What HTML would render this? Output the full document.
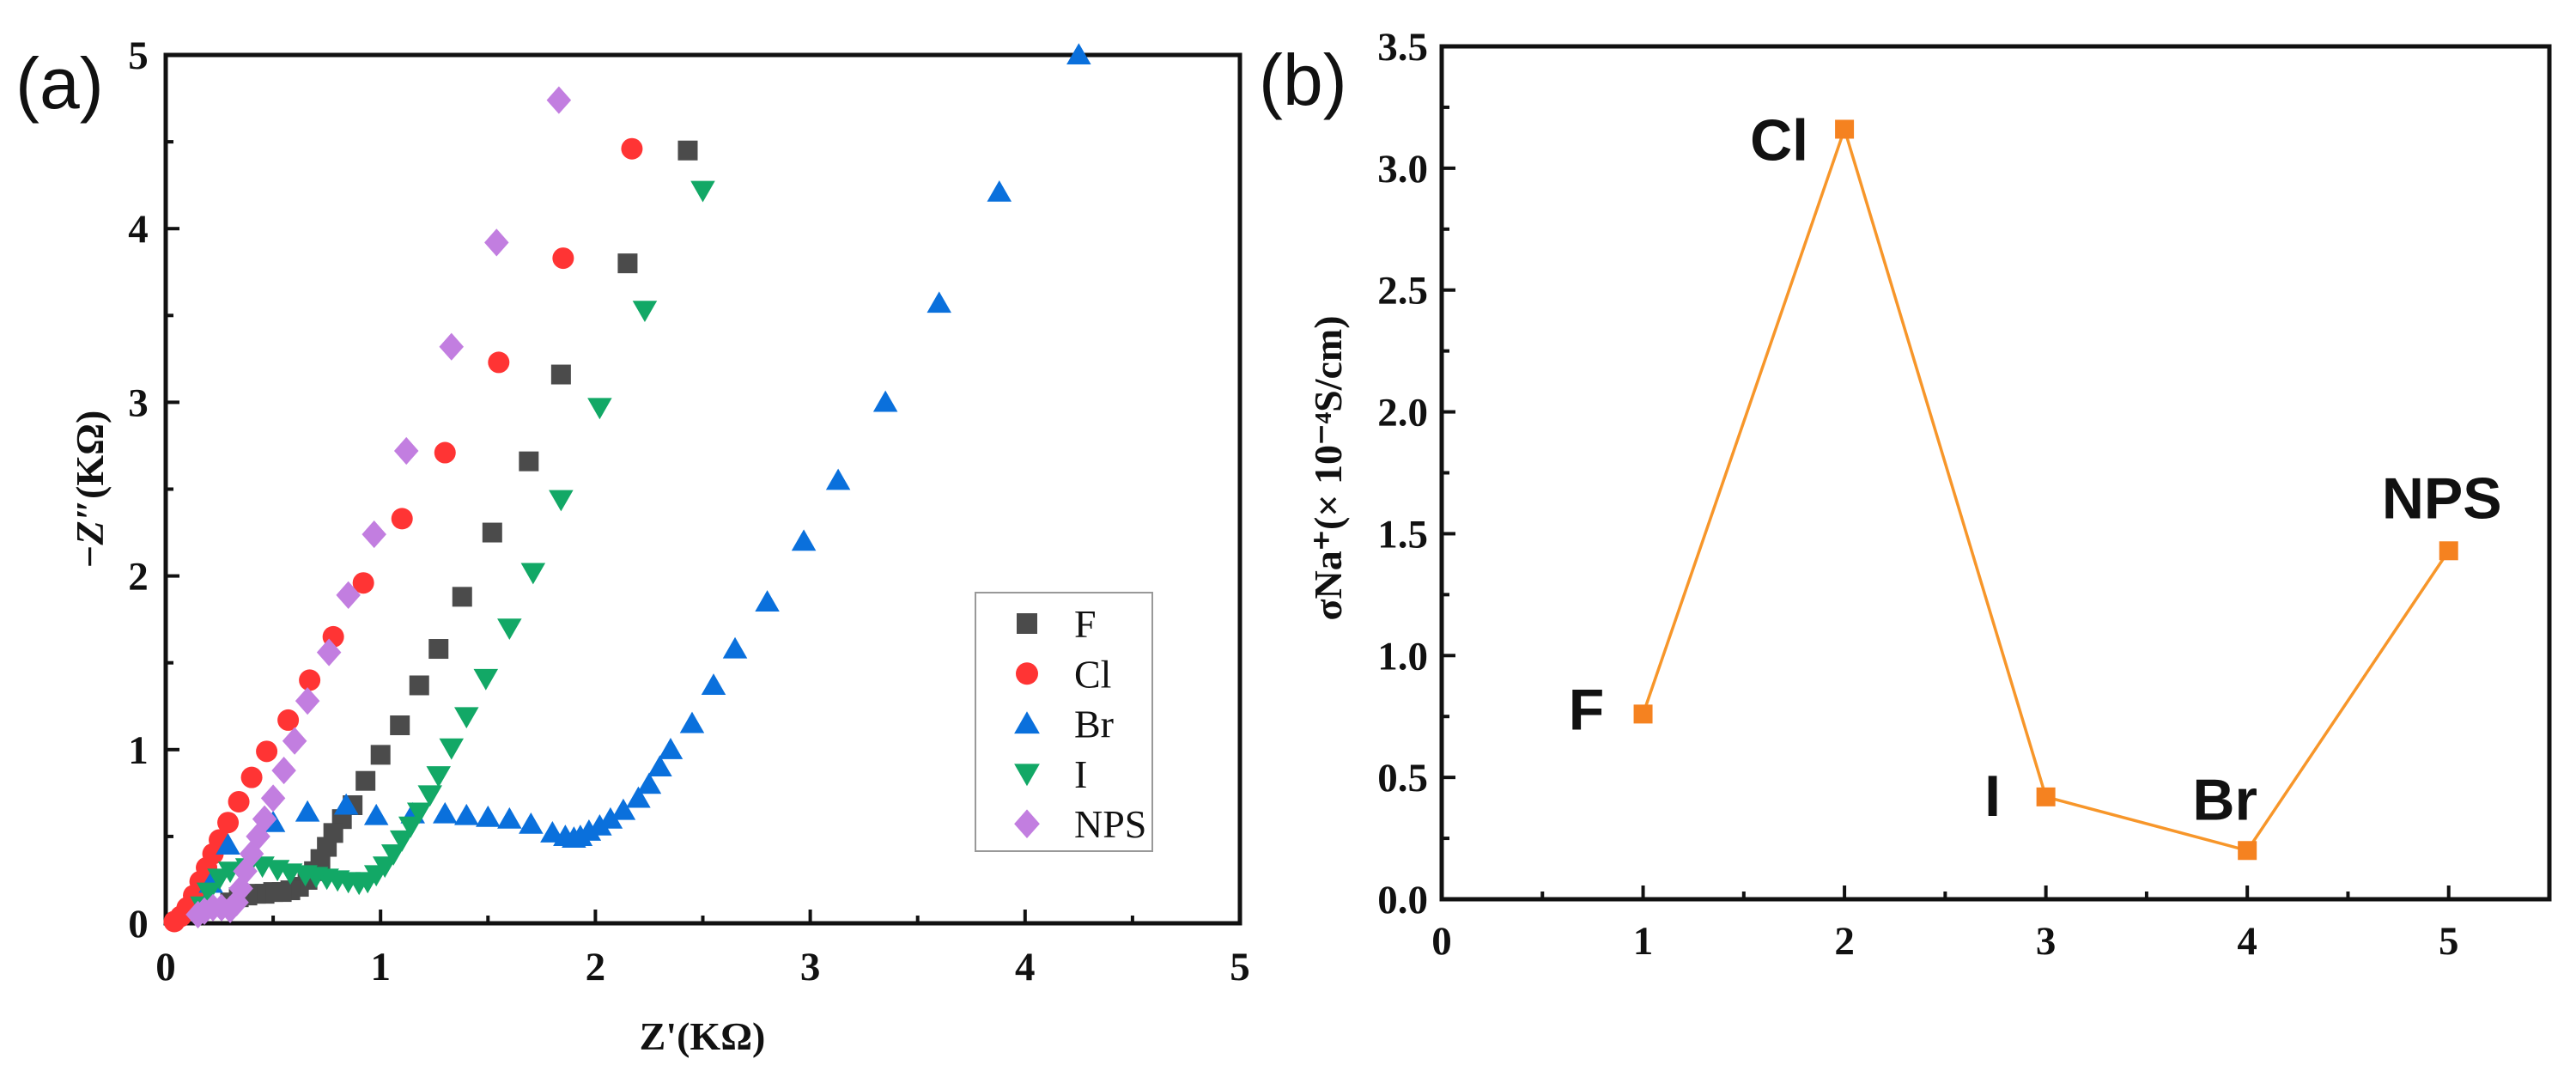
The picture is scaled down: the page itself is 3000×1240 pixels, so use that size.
<!DOCTYPE html>
<html><head><meta charset="utf-8">
<style>
html,body{margin:0;padding:0;background:#fff;}
svg{display:block;}
.tick{font-family:"Liberation Serif",serif;font-weight:bold;font-size:47px;fill:#111;}
.ttl{font-family:"Liberation Serif",serif;font-weight:bold;font-size:46px;fill:#111;}
.plab{font-family:"Liberation Sans",sans-serif;font-size:84px;fill:#111;}
.blab{font-family:"Liberation Sans",sans-serif;font-weight:bold;font-size:68px;fill:#111;}
.leg{font-family:"Liberation Serif",serif;font-size:46px;fill:#111;}
</style></head>
<body>
<svg id="fig" width="3000" height="1240" viewBox="0 0 3000 1240" xmlns="http://www.w3.org/2000/svg">
<text class="plab" x="18" y="126">(a)</text>
<text class="plab" x="1466" y="122">(b)</text>
<g id="pa"></g>
<g id="pb"></g>
</svg>
<script>
// ---------- Panel (a) data: Nyquist ----------
const seriesNames = ["F","Cl","Br","I","NPS"];
const F_x=[2.43,2.15,1.84,1.69,1.52,1.38,1.27,1.18,1.09,1.00,0.93,0.87,0.82,0.78,0.75,0.72,0.69,0.66,0.62,0.58,0.54,0.50,0.46,0.42,0.38,0.34,0.30];
const F_y=[4.45,3.80,3.16,2.66,2.25,1.88,1.58,1.37,1.14,0.97,0.82,0.68,0.60,0.52,0.44,0.37,0.30,0.25,0.21,0.19,0.18,0.18,0.17,0.17,0.16,0.15,0.12];
const Cl_x=[2.17,1.85,1.55,1.30,1.10,0.92,0.78,0.67,0.57,0.47,0.40,0.34,0.29,0.25,0.22,0.19,0.16,0.13,0.10,0.07,0.04];
const Cl_y=[4.46,3.83,3.23,2.71,2.33,1.96,1.65,1.40,1.17,0.99,0.84,0.70,0.58,0.48,0.40,0.32,0.24,0.16,0.09,0.04,0.01];
const Br_x=[4.25,3.88,3.60,3.35,3.13,2.97,2.80,2.65,2.55,2.45,2.35,2.30,2.25,2.20,2.13,2.07,2.02,1.97,1.93,1.90,1.86,1.80,1.70,1.60,1.50,1.40,1.30,1.15,0.98,0.84,0.66,0.50,0.29,0.21,0.18];
const Br_y=[5.00,4.21,3.57,3.00,2.55,2.20,1.85,1.58,1.37,1.15,1.00,0.90,0.80,0.72,0.65,0.60,0.56,0.53,0.50,0.49,0.50,0.52,0.57,0.60,0.61,0.62,0.63,0.63,0.62,0.68,0.64,0.58,0.45,0.23,0.10];
const I_x=[2.50,2.23,2.02,1.84,1.71,1.60,1.49,1.40,1.33,1.27,1.23,1.18,1.14,1.10,1.06,1.02,0.98,0.94,0.90,0.85,0.80,0.75,0.70,0.65,0.58,0.52,0.45,0.38,0.30,0.25,0.20,0.17];
const I_y=[4.22,3.53,2.97,2.44,2.02,1.70,1.41,1.19,1.01,0.85,0.74,0.64,0.56,0.48,0.40,0.33,0.28,0.24,0.23,0.24,0.25,0.26,0.27,0.28,0.29,0.31,0.33,0.32,0.30,0.26,0.18,0.10];
const N_x=[1.83,1.54,1.33,1.12,0.97,0.85,0.76,0.66,0.60,0.55,0.50,0.46,0.43,0.40,0.37,0.35,0.33,0.30,0.26,0.22,0.18,0.15];
const N_y=[4.74,3.92,3.32,2.72,2.24,1.89,1.56,1.28,1.05,0.88,0.72,0.60,0.50,0.40,0.30,0.20,0.12,0.08,0.09,0.09,0.07,0.05];
const aTicks=[0,1,2,3,4,5];
// ---------- Panel (b) data ----------
const bCats=["F","Cl","I","Br","NPS"];
const bX=[1,2,3,4,5];
const bY=[0.76,3.16,0.42,0.20,1.43];
const bYTicks=["0.0","0.5","1.0","1.5","2.0","2.5","3.0","3.5"];
const bXTicks=["0","1","2","3","4","5"];

const NS="http://www.w3.org/2000/svg";
function mk(tag,attrs,parent){const e=document.createElementNS(NS,tag);for(const k in attrs)e.setAttribute(k,attrs[k]);parent.appendChild(e);return e;}

// ---- Panel a ----
const pa=document.getElementById('pa');
const aL=193,aR=1444,aT=64,aB=1075;
const ax=v=>aL+(aR-aL)*v/5, ay=v=>aB-(aB-aT)*v/5;
const frameA=mk('rect',{x:aL,y:aT,width:aR-aL,height:aB-aT,fill:'none',stroke:'#111','stroke-width':5},pa);


for(let i=0;i<=10;i++){
  const v=i/2, major=i%2===0, len=major?16:9;
  const t1=mk('line',{x1:ax(v),x2:ax(v),y1:aB,y2:aB-len,stroke:'#111','stroke-width':4},pa);
  
  
  const t2=mk('line',{x1:aL,x2:aL+len,y1:ay(v),y2:ay(v),stroke:'#111','stroke-width':4},pa);
  
  
}
aTicks.forEach(v=>{
  const tx=mk('text',{x:ax(v),y:aB+66,'text-anchor':'middle',class:'tick'},pa);tx.textContent=v;
  
  
  const ty=mk('text',{x:aL-32,y:ay(v)+16,'text-anchor':'middle',class:'tick'},pa);ty.textContent=v;
  
  
});
const xtA=mk('text',{x:818,y:1222,'text-anchor':'middle',class:'ttl'},pa);xtA.textContent="Z'(KΩ)";


const ytA=mk('text',{x:0,y:0,'text-anchor':'middle',class:'ttl',transform:'translate(120,570) rotate(-90)'},pa);
ytA.innerHTML='<tspan font-style="italic">−Z″</tspan>(KΩ)';



const colors={F:'#4b4b4b',Cl:'#ff3434',Br:'#0a70dc',I:'#12a866',NPS:'#c27ee0'};
function marker(type,cx,cy,s,color,parent){
  let e;
  if(type==='F') e=mk('rect',{x:cx-s/2,y:cy-s/2,width:s,height:s,fill:color},parent);
  else if(type==='Cl') e=mk('circle',{cx:cx,cy:cy,r:s/2+1,fill:color},parent);
  else if(type==='Br') e=mk('polygon',{points:`${cx},${cy-s*0.6} ${cx+s*0.62},${cy+s*0.48} ${cx-s*0.62},${cy+s*0.48}`,fill:color},parent);
  else if(type==='I') e=mk('polygon',{points:`${cx},${cy+s*0.6} ${cx+s*0.62},${cy-s*0.48} ${cx-s*0.62},${cy-s*0.48}`,fill:color},parent);
  else e=mk('polygon',{points:`${cx},${cy-s*0.7} ${cx+s*0.62},${cy} ${cx},${cy+s*0.7} ${cx-s*0.62},${cy}`,fill:color},parent);
  return e;
}
const dataA={F:[F_x,F_y],Cl:[Cl_x,Cl_y],Br:[Br_x,Br_y],I:[I_x,I_y],NPS:[N_x,N_y]};
const drawOrder=["F","Cl","Br","I","NPS"];
drawOrder.forEach(n=>{
  const g=mk('g',{},pa);
  
  
  const [xs,ys]=dataA[n];
  xs.forEach((xv,i)=>{
    const m=marker(n,ax(xv),ay(ys[i]),23,colors[n],g);
    
    
  });
});
// legend
const lg=mk('g',{},pa);


mk('rect',{x:1136,y:690,width:206,height:301,fill:'#fff',stroke:'#999','stroke-width':2},lg);
seriesNames.forEach((n,i)=>{
  const y=726+i*58.3;
  const m=marker(n,1196,y,24,colors[n],lg);
  
  
  const t=mk('text',{x:1251,y:y+16,class:'leg'},lg);t.textContent=n;
  
  
});

// ---- Panel b ----
const pb=document.getElementById('pb');
const bL=1679,bR=2969,bT=54,bB=1047;
const bx=v=>bL+(bR-bL)*v/5.5, by=v=>bB-(bB-bT)*v/3.5;
const frameB=mk('rect',{x:bL,y:bT,width:bR-bL,height:bB-bT,fill:'none',stroke:'#111','stroke-width':5},pb);


for(let i=0;i<=11;i++){
  const v=i/2,len=i%2===0?16:9;
  const t=mk('line',{x1:bx(v),x2:bx(v),y1:bB,y2:bB-len,stroke:'#111','stroke-width':4},pb);
  
  
}
for(let i=0;i<=14;i++){
  const v=i/4,len=i%2===0?16:9;
  const t=mk('line',{x1:bL,x2:bL+len,y1:by(v),y2:by(v),stroke:'#111','stroke-width':4},pb);
  
  
}
bXTicks.forEach(s=>{
  const t=mk('text',{x:bx(+s),y:bB+64,'text-anchor':'middle',class:'tick'},pb);t.textContent=s;
  
  
});
bYTicks.forEach(s=>{
  const t=mk('text',{x:bL-16,y:by(+s)+16,'text-anchor':'end',class:'tick'},pb);t.textContent=s;
  
  
});
const ytB=mk('text',{x:0,y:0,'text-anchor':'middle',class:'ttl',transform:'translate(1562,545) rotate(-90)'},pb);
ytB.textContent='σNa⁺(× 10⁻⁴S/cm)';


const pts=bX.map((v,i)=>bx(v)+','+by(bY[i])).join(' ');
const ln=mk('polyline',{points:pts,fill:'none',stroke:'#f7962a','stroke-width':3.5},pb);


const labOff={F:[-66,18],Cl:[-76,36],I:[-62,22],Br:[-26,-36],NPS:[-8,-38]};
bX.forEach((v,i)=>{
  const m=mk('rect',{x:bx(v)-11,y:by(bY[i])-11,width:22,height:22,fill:'#f58220'},pb);
  
  
  const o=labOff[bCats[i]];
  const t=mk('text',{x:bx(v)+o[0],y:by(bY[i])+o[1],'text-anchor':'middle',class:'blab'},pb);
  t.textContent=bCats[i];
  
  
});
</script>
</body></html>
